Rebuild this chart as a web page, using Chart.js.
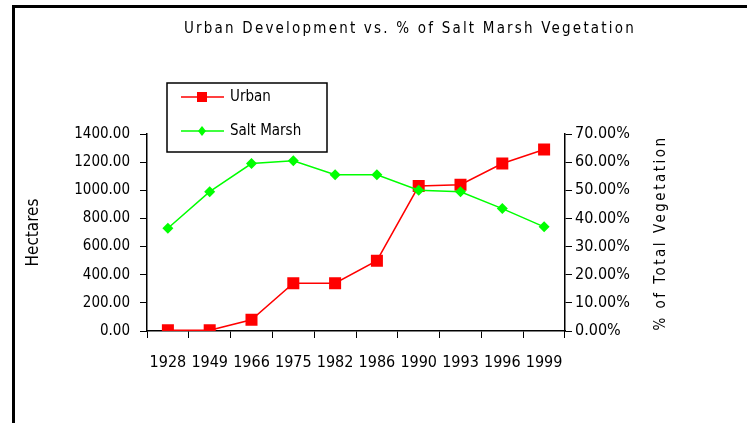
<!DOCTYPE html>
<html>
<head>
<meta charset="utf-8">
<script src="https://cdn.jsdelivr.net/npm/chart.js@4/dist/chart.umd.min.js"></script>
<style>
  html, body { margin: 0; padding: 0; background: #fff; }
  #wrap { width: 747px; height: 423px; }
</style>
</head>
<body>
<div id="wrap"><canvas id="marshChart" width="747" height="423"></canvas></div>
<script>
let years = ["1928", "1949", "1966", "1975", "1982", "1986", "1990", "1993", "1996", "1999"];
let urbanHectares = [5, 5, 80, 340, 340, 500, 1030, 1040, 1190, 1290];
let saltMarshPct = [36.5, 49.5, 59.5, 60.5, 55.5, 55.5, 50, 49.5, 43.5, 37];
let hectareMax = 1400, hectareStep = 200;
let pctMax = 70, pctStep = 10;

let chartTitle = "Urban Development vs. % of Salt Marsh Vegetation";
let rightTitle = "% of Total Vegetation";

let fam = '"Liberation Sans Narrow", "DejaVu Sans Condensed", "Liberation Sans", Arial, sans-serif';

// border, title, right axis title and the boxed legend
let extras = {
  id: "extras",
  afterDraw(chart) {
    let ctx = chart.ctx;
    ctx.save();
    ctx.fillStyle = "#000";
    ctx.fillRect(12, 5, 3, 418);
    ctx.fillRect(12, 5, 735, 3);

    ctx.font = "15px " + fam;
    ctx.letterSpacing = "2.2px";
    ctx.textAlign = "center";
    ctx.textBaseline = "middle";
    ctx.fillText(chartTitle, 410, 29);

    ctx.translate(661, 233);
    ctx.rotate(-Math.PI / 2);
    ctx.font = "15px " + fam;
    ctx.letterSpacing = "2.5px";
    ctx.fillText(rightTitle, 0, 0);
    ctx.setTransform(1, 0, 0, 1, 0, 0);
    ctx.letterSpacing = "0px";

    // legend
    ctx.fillStyle = "#fff";
    ctx.fillRect(167, 83, 160, 69);
    ctx.strokeStyle = "#000";
    ctx.lineWidth = 1.5;
    ctx.strokeRect(167, 83, 160, 69);
    let rows = [97, 131];
    chart.data.datasets.forEach((ds, i) => {
      let y = rows[i];
      ctx.strokeStyle = ds.borderColor;
      ctx.lineWidth = 1.5;
      ctx.beginPath();
      ctx.moveTo(181, y);
      ctx.lineTo(224, y);
      ctx.stroke();
      ctx.fillStyle = ds.backgroundColor;
      ctx.beginPath();
      if (ds.pointStyle === "rect") {
        ctx.rect(197, y - 5, 10, 10);
      } else {
        ctx.moveTo(202, y - 5);
        ctx.lineTo(206, y);
        ctx.lineTo(202, y + 5);
        ctx.lineTo(198, y);
        ctx.closePath();
      }
      ctx.fill();
      ctx.fillStyle = "#000";
      ctx.font = "15px " + fam;
      ctx.textAlign = "left";
      ctx.fillText(ds.label, 230, y);
    });
    ctx.restore();
  }
};

let axisFont = { family: fam, size: 15 };

new Chart(document.getElementById("marshChart").getContext("2d"), {
  type: "line",
  data: {
    labels: years,
    datasets: [
      {
        label: "Urban",
        data: urbanHectares,
        yAxisID: "y",
        borderColor: "#FF0000",
        backgroundColor: "#FF0000",
        borderWidth: 1.5,
        pointStyle: "rect",
        pointRadius: 8.5,
        pointBorderWidth: 0,
        order: 1,
      },
      {
        label: "Salt Marsh",
        data: saltMarshPct,
        yAxisID: "y1",
        borderColor: "#00FF00",
        backgroundColor: "#00FF00",
        borderWidth: 1.5,
        pointStyle: "rectRot",
        pointRadius: 5.5,
        pointBorderWidth: 0,
        order: 0,
      },
    ],
  },
  options: {
    responsive: false,
    animation: false,
    layout: { padding: { top: 134, left: 0, right: 0, bottom: 0 } },
    plugins: {
      legend: { display: false },
      title: { display: false },
      tooltip: { enabled: false },
    },
    scales: {
      x: {
        offset: true,
        grid: { offset: true, drawOnChartArea: false, tickLength: 7, color: "#000" },
        border: { color: "#000", width: 1.5 },
        ticks: { autoSkip: false, maxRotation: 0, padding: 15, color: "#000", font: { family: fam, size: 16 } },
        afterFit: (s) => { s.height = 92; },
      },
      y: {
        position: "left",
        min: 0,
        max: hectareMax,
        grid: { drawOnChartArea: false, tickLength: 7, color: "#000" },
        border: { color: "#000", width: 1.5 },
        ticks: { stepSize: hectareStep, padding: 10, color: "#000", font: axisFont, callback: (v) => v.toFixed(2) },
        title: { display: true, text: "Hectares", color: "#000", font: { family: fam, size: 17 }, padding: { top: 23, bottom: 0 } },
        afterFit: (s) => { s.width = 147; },
      },
      y1: {
        position: "right",
        min: 0,
        max: pctMax,
        grid: { drawOnChartArea: false, tickLength: 7, color: "#000" },
        border: { color: "#000", width: 1.5 },
        ticks: { stepSize: pctStep, padding: 3, color: "#000", font: { family: fam, size: 16 }, callback: (v) => v.toFixed(2) + "%" },
        afterFit: (s) => { s.width = 182; },
      },
    },
  },
  plugins: [extras],
});
</script>
</body>
</html>
